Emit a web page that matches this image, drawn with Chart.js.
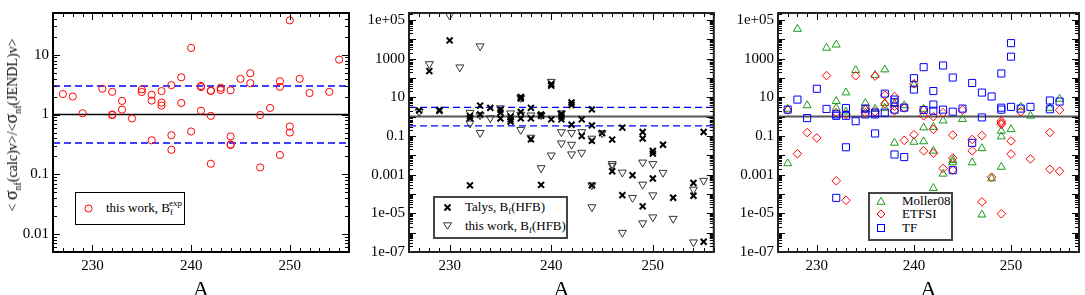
<!DOCTYPE html>
<html>
<head>
<meta charset="utf-8">
<script src="https://cdn.jsdelivr.net/npm/chart.js@4.4.0/dist/chart.umd.min.js"></script>
<style>
    body {
        margin: 0;
        width: 1085px;
        height: 295px;
        overflow: hidden;
        position: relative;
        background: #fff;
        font-family: "Liberation Serif", "Times New Roman", serif;
    }
    .panel { position: absolute; top: 0; }
    .box { position: absolute; background: #fff; box-sizing: border-box; }
    .mk { position: absolute; }
    .txt {
        position: absolute;
        white-space: nowrap;
        font-size: 13px;
        line-height: 16px;
        color: #000;
    }
    .txt sub, .txt sup { font-size: 9px; line-height: 0; }
    .txt sub { vertical-align: -3px; }
    .txt sup { vertical-align: 6px; margin-left: -4px; }
    #ytitle {
        position: absolute;
        left: 12px;
        top: 125px;
        transform: translate(-50%, -50%) rotate(-90deg);
        white-space: nowrap;
        font-size: 14px;
        line-height: 18px;
    }
    #ytitle .sg { font-size: 18px; }
    #ytitle sub { font-size: 10px; line-height: 0; vertical-align: -4px; }
</style>
</head>
<body>
<canvas id="c1" class="panel" style="left:0px" width="360" height="310"></canvas>
<canvas id="c2" class="panel" style="left:355px" width="365" height="310"></canvas>
<canvas id="c3" class="panel" style="left:720px" width="365" height="310"></canvas>

<div id="ytitle">&lt; <span class="sg">σ</span><sub>nf</sub>(calc)v&gt;/&lt;<span class="sg">σ</span><sub>nf</sub>(JENDL)v&gt;</div>

<!-- legend, panel 1 -->
<div class="box" style="left:75px;top:192px;width:110px;height:33px;border:1.5px solid #000"></div>
<svg class="mk" style="left:83px;top:203px" width="11" height="11"><circle cx="5.5" cy="5.5" r="3.6" fill="none" stroke="#ff0000" stroke-width="1"/></svg>
<div class="txt" style="left:106px;top:200px">this work, B<sub>f</sub><sup>exp</sup></div>

<!-- legend, panel 2 -->
<div class="box" style="left:433px;top:196px;width:135px;height:43px;border:2px solid #444"></div>
<svg class="mk" style="left:442px;top:202px" width="11" height="11"><path d="M2.5 2.5L8.5 8.5M8.5 2.5L2.5 8.5" stroke="#000" stroke-width="2"/></svg>
<svg class="mk" style="left:442px;top:220px" width="11" height="11"><path d="M1.5 2.8L9.5 2.8L5.5 9.2Z" fill="none" stroke="#333" stroke-width="1"/></svg>
<div class="txt" style="left:465px;top:199px">Talys, B<sub>f</sub>(HFB)</div>
<div class="txt" style="left:465px;top:218px">this work, B<sub>f</sub>(HFB)</div>

<!-- legend, panel 3 -->
<div class="box" style="left:868px;top:192px;width:85px;height:49px;border:2px solid #444"></div>
<svg class="mk" style="left:875px;top:195px" width="12" height="12"><path d="M2 9.3L10 9.3L6 2.3Z" fill="none" stroke="#1a9a1a" stroke-width="1"/></svg>
<svg class="mk" style="left:875px;top:208px" width="12" height="12"><path d="M6 2L10 6L6 10L2 6Z" fill="none" stroke="#ff0000" stroke-width="1"/></svg>
<svg class="mk" style="left:875px;top:222px" width="12" height="12"><rect x="2.5" y="2.5" width="7" height="7" fill="none" stroke="#0000ff" stroke-width="1"/></svg>
<div class="txt" style="left:902px;top:193px">Moller08</div>
<div class="txt" style="left:902px;top:206px">ETFSI</div>
<div class="txt" style="left:902px;top:220px">TF</div>

<script>
// ratio <sigma_nf(calc)v>/<sigma_nf(JENDL)v> against mass number A

// left panel: this work, experimental barriers
const expA = [227, 228, 229, 231, 232, 232, 232, 233, 233, 234, 235, 235, 236, 236, 236,
    237, 237, 237, 238, 238, 238, 239, 239, 240, 240, 241, 241, 241, 242, 242, 242, 242,
    243, 243, 244, 244, 244, 244, 245, 246, 246, 247, 247, 248, 249, 249, 249, 250, 250,
    250, 251, 252, 254, 255];
const expRatio = [2.2, 2.0, 1.05, 2.7, 2.4, 1.0, 0.98, 1.69, 1.21, 0.86, 2.64, 2.38, 2.14,
    1.71, 0.37, 2.47, 1.58, 1.41, 3.1, 0.45, 0.257, 4.2, 1.56, 13, 0.52, 3.0, 2.88, 1.16,
    2.5, 2.48, 0.95, 0.15, 2.8, 2.57, 2.54, 0.43, 0.31, 0.315, 3.95, 4.9, 3.35, 0.98, 0.13,
    1.29, 3.6, 2.9, 0.21, 37.6, 0.63, 0.5, 3.95, 2.29, 2.4, 8.3];

// middle panel: HFB barriers
const talysA = [227, 228, 229, 229, 230, 232, 232, 232, 233, 233, 234, 235, 235, 235, 236,
    236, 236, 237, 237, 237, 237, 238, 238, 238, 239, 239, 239, 240, 240, 240, 241, 241,
    241, 242, 242, 242, 243, 243, 244, 244, 244, 244, 245, 246, 246, 247, 247, 248, 249,
    249, 249, 250, 250, 250, 251, 252, 254, 254, 255, 255];
const talysRatio = [2.1, 226, 2.2, 2.0, 8700, 1.1, 0.85, 2.8e-4, 3.7, 1.28, 2.85, 2.3, 1.6,
    0.8, 1.0, 0.72, 0.55, 10.4, 8.6, 1.74, 0.81, 2.85, 0.81, 0.068, 1.28, 1.1, 2.95e-4, 49,
    40, 0.72, 1.4, 1.0, 0.72, 5.4, 4.0, 0.38, 0.72, 0.1, 2.35, 0.35, 0.056, 2.8e-4, 0.14,
    0.065, 0.0015, 0.27, 8.7e-5, 9.3e-4, 0.16, 0.074, 2.3e-5, 0.0166, 0.0123, 6.3e-4,
    0.035, 6.4e-5, 3.7e-4, 8.1e-5, 0.16, 3.4e-7];
const hfbA = [227, 228, 230, 231, 232, 232, 233, 233, 233, 234, 235, 236, 237, 237, 237,
    238, 238, 239, 239, 240, 240, 241, 241, 241, 242, 242, 242, 243, 243, 244, 244, 244,
    245, 246, 246, 247, 247, 248, 249, 249, 249, 250, 250, 250, 251, 252, 254, 254, 255];
const hfbRatio = [1.8, 525, 1.7e5, 358, 1.6, 0.45, 4400, 1.2, 0.146, 0.84, 2.75, 1.5, 9.5,
    1.27, 0.21, 1.17, 0.083, 1.2, 2.2e-3, 64, 0.01, 1.5, 0.16, 0.042, 0.146, 0.036, 0.0114,
    0.16, 0.0138, 0.074, 2.8e-4, 2.1e-5, 0.14, 0.0036, 0.0029, 0.0013, 1.0e-6, 6.4e-5,
    0.0043, 3.1e-4, 3.1e-6, 0.0036, 8.7e-5, 6.3e-6, 0.00127, 5.3e-6, 1.7e-4, 3.2e-7, 4.9e-4];

// right panel: other barrier models
const mollerA = [227, 227, 228, 229, 231, 232, 232, 232, 233, 233, 234, 235, 235, 236, 236,
    237, 237, 237, 238, 238, 239, 240, 240, 241, 241, 241, 242, 242, 242, 243, 243, 244,
    244, 245, 246, 247, 247, 248, 249, 249, 249, 250, 251, 252, 254, 255];
const mollerRatio = [2.5, 0.0038, 3.4e4, 3.8, 3550, 5200, 6.3, 2.8, 17.5, 1.8, 250, 5.0,
    2.4, 140, 2.5, 270, 5.0, 2.8, 4.7, 0.044, 3.8, 45, 0.049, 2.5, 0.27, 0.052, 0.29, 0.017,
    2.0e-4, 0.62, 0.0011, 0.0056, 0.0043, 0.74, 0.0042, 0.023, 8.5e-6, 6.3e-4, 0.18, 0.093,
    0.0025, 0.22, 3.2, 1.1, 2.8, 8.2];
const etfsiA = [227, 228, 229, 230, 231, 232, 232, 233, 233, 234, 235, 235, 236, 236, 237,
    237, 238, 238, 238, 239, 239, 240, 240, 241, 241, 241, 242, 242, 242, 243, 243, 244,
    244, 244, 245, 246, 246, 247, 247, 248, 249, 249, 249, 249, 250, 250, 251, 252, 254,
    254, 255, 255];
const etfsiRatio = [2.2, 0.012, 0.15, 0.079, 132, 1.65, 4.8e-4, 1.3, 4.7e-5, 130, 2.4, 1.6,
    125, 1.8, 13, 4.6, 10.8, 3.4, 2.0, 2.8, 0.059, 50, 0.117, 2.2, 1.1, 0.017, 1.0, 0.22,
    0.0129, 1.6, 0.0021, 0.112, 0.0072, 0.0017, 2.2, 0.066, 0.017, 0.105, 3.9e-5, 7.4e-4,
    0.58, 0.47, 0.4, 9.5e-6, 0.055, 0.0115, 1.8, 0.0065, 0.15, 0.0019, 2.2, 0.0015];
const tfA = [227, 228, 229, 230, 231, 232, 232, 232, 233, 233, 233, 234, 235, 235, 236, 236,
    236, 237, 237, 238, 238, 238, 238, 239, 239, 240, 240, 241, 241, 242, 242, 242, 243,
    243, 244, 244, 244, 245, 246, 246, 247, 247, 248, 249, 249, 249, 250, 250, 250, 251,
    252, 254, 254, 255];
const tfRatio = [2.3, 7.6, 0.84, 27.5, 2.5, 1.3, 1.1, 6.3e-5, 2.8, 1.1, 0.026, 0.58, 2.6,
    1.3, 1.6, 1.3, 0.135, 15.5, 1.6, 7.6, 5.6, 2.3, 0.011, 2.9, 0.0081, 97, 25, 360, 2.2, 21,
    4.2, 2.0, 440, 2.3, 105, 1.8, 0.0017, 2.6, 55, 0.044, 17.5, 0.91, 11, 170, 2.9, 2.3,
    6300, 1260, 3.2, 2.6, 3.2, 6.8, 2.4, 6.0];

// axes
const xTickLabels = [230, 240, 250];
const yTicksNarrow = [0.01, 0.1, 1, 10];
const yTicksNarrowText = ["0.01", "0.1", "1", "10"];
const yTicksWide = [1e5, 1e3, 10, 0.1, 1e-3, 1e-5, 1e-7];
const yTicksWideText = ["1e+05", "1000", "10", "0.1", "0.001", "1e-05", "1e-07"];
const bandLevels = [1 / 3, 3]; // factor-3 band around unity

const FONT = "'Liberation Serif', 'Times New Roman', serif";

const pts = (a, v) => a.map((x, i) => ({ x, y: v[i] }));

function marks(label, a, v, style) {
    return Object.assign(
        {
            label,
            data: pts(a, v),
            showLine: false,
            pointBackgroundColor: "rgba(0,0,0,0)",
            pointBorderWidth: 1,
        },
        style
    );
}

function hline(y, x0, x1, color, width, dash) {
    return {
        data: [{ x: x0, y }, { x: x1, y }],
        showLine: true,
        borderColor: color,
        borderWidth: width,
        borderDash: dash || [],
        pointRadius: 0,
        fill: false,
    };
}

function logTicks(min, max) {
    const out = [];
    const d0 = Math.floor(Math.log10(min));
    const d1 = Math.ceil(Math.log10(max));
    for (let d = d0; d <= d1; d++) {
        for (let m = 1; m < 10; m++) {
            const v = m * Math.pow(10, d);
            if (v >= min * 0.9999 && v <= max * 1.0001) {
                out.push({ value: v, major: m === 1 });
            }
        }
    }
    return out;
}

// inward ticks on all four sides plus the closed frame
const frame = {
    id: "frame",
    afterDatasetsDraw(chart, args, opts) {
        const { ctx, chartArea: a } = chart;
        const { x, y } = chart.scales;
        ctx.save();
        ctx.strokeStyle = "#000";
        ctx.lineWidth = 1;
        ctx.beginPath();
        for (const t of x.ticks) {
            const p = Math.round(x.getPixelForValue(t.value)) + 0.5;
            const len = t.major ? 7 : 4;
            ctx.moveTo(p, a.bottom);
            ctx.lineTo(p, a.bottom - len);
            ctx.moveTo(p, a.top);
            ctx.lineTo(p, a.top + len);
        }
        for (const t of y.ticks) {
            const p = Math.round(y.getPixelForValue(t.value)) + 0.5;
            const len = t.major ? 7 : 4;
            ctx.moveTo(a.left, p);
            ctx.lineTo(a.left + len, p);
            ctx.moveTo(a.right, p);
            ctx.lineTo(a.right - len, p);
        }
        ctx.stroke();
        ctx.strokeStyle = opts.color || "#000";
        ctx.lineWidth = opts.width || 2;
        ctx.strokeRect(a.left, a.top, a.right - a.left, a.bottom - a.top);
        ctx.restore();
    },
};

function makeChart(id, p) {
    return new Chart(document.getElementById(id), {
        type: "scatter",
        data: { datasets: p.datasets },
        options: {
            responsive: false,
            animation: false,
            devicePixelRatio: 1,
            events: [],
            layout: { padding: { left: 0, top: p.top, right: p.right, bottom: 0 } },
            plugins: {
                legend: { display: false },
                tooltip: { enabled: false },
                frame: { color: p.frameColor, width: 2 },
            },
            scales: {
                x: {
                    type: "linear",
                    min: p.xMin,
                    max: p.xMax,
                    grid: { display: false, drawTicks: false },
                    border: { display: false },
                    afterBuildTicks: (s) => {
                        const t = [];
                        for (let a = Math.ceil(s.min); a <= s.max; a++) {
                            t.push({ value: a, major: a % 10 === 0 });
                        }
                        s.ticks = t;
                    },
                    afterFit: (s) => {
                        s.height = 310 - 252;
                    },
                    ticks: {
                        autoSkip: false,
                        maxRotation: 0,
                        padding: 5,
                        color: "#000",
                        font: { family: FONT, size: 15 },
                        callback: (v) => (xTickLabels.includes(v) ? String(v) : ""),
                    },
                    title: {
                        display: true,
                        text: "A",
                        color: "#000",
                        font: { family: FONT, size: 22 },
                        padding: { top: 0, bottom: 7 },
                    },
                },
                y: {
                    type: "logarithmic",
                    min: p.yMin,
                    max: p.yMax,
                    grid: { display: false, drawTicks: false },
                    border: { display: false },
                    afterBuildTicks: (s) => {
                        s.ticks = logTicks(p.yMin, p.yMax);
                    },
                    afterFit: (s) => {
                        s.width = p.axisW;
                    },
                    ticks: {
                        autoSkip: false,
                        padding: 4,
                        color: "#000",
                        font: { family: FONT, size: 15 },
                        callback: (v) => {
                            const i = p.yLabels.findIndex(
                                (t) => Math.abs(Math.log10(t) - Math.log10(v)) < 1e-6
                            );
                            return i >= 0 ? p.yText[i] : "";
                        },
                    },
                },
            },
        },
        plugins: [frame],
    });
}

const exp = marks("this work, Bf exp", expA, expRatio, {
    pointStyle: "circle",
    pointRadius: 3.6,
    pointBorderColor: "#ff0000",
});
const talys = marks("Talys, Bf(HFB)", talysA, talysRatio, {
    pointStyle: "crossRot",
    pointRadius: 4.2,
    pointBorderWidth: 2,
    pointBorderColor: "#000",
});
const hfb = marks("this work, Bf(HFB)", hfbA, hfbRatio, {
    pointStyle: "triangle",
    pointRotation: 180,
    pointRadius: 4.6,
    pointBorderColor: "#333",
});
const moller = marks("Moller08", mollerA, mollerRatio, {
    pointStyle: "triangle",
    pointRadius: 4.6,
    pointBorderColor: "#1a9a1a",
});
const etfsi = marks("ETFSI", etfsiA, etfsiRatio, {
    pointStyle: "rectRot",
    pointRadius: 4.3,
    pointBorderColor: "#ff0000",
});
const tf = marks("TF", tfA, tfRatio, {
    pointStyle: "rect",
    pointRadius: 5,
    pointBorderColor: "#0000ff",
});

makeChart("c1", {
    top: 10,
    right: 11,
    axisW: 53,
    xMin: 226,
    xMax: 256,
    yMin: 0.005,
    yMax: 50,
    yLabels: yTicksNarrow,
    yText: yTicksNarrowText,
    frameColor: "#000",
    datasets: [
        exp,
        hline(1, 226, 256, "#000", 1.5),
        ...bandLevels.map((b) => hline(b, 226, 256, "#0000ff", 1.3, [7, 4])),
    ],
});

makeChart("c2", {
    top: 0,
    right: 4,
    axisW: 54,
    xMin: 226,
    xMax: 256,
    yMin: 1e-7,
    yMax: 2.28e5,
    yLabels: yTicksWide,
    yText: yTicksWideText,
    frameColor: "#222",
    datasets: [
        talys,
        hfb,
        hline(1, 226, 256, "#555", 2),
        ...bandLevels.map((b) => hline(b, 226, 256, "#0000ff", 1.3, [7, 4])),
    ],
});

makeChart("c3", {
    top: 0,
    right: 2,
    axisW: 58,
    xMin: 226,
    xMax: 257,
    yMin: 1e-7,
    yMax: 2.28e5,
    yLabels: yTicksWide,
    yText: yTicksWideText,
    frameColor: "#222",
    datasets: [tf, etfsi, moller, hline(1, 226, 257, "#555", 2)],
});
</script>
</body>
</html>
